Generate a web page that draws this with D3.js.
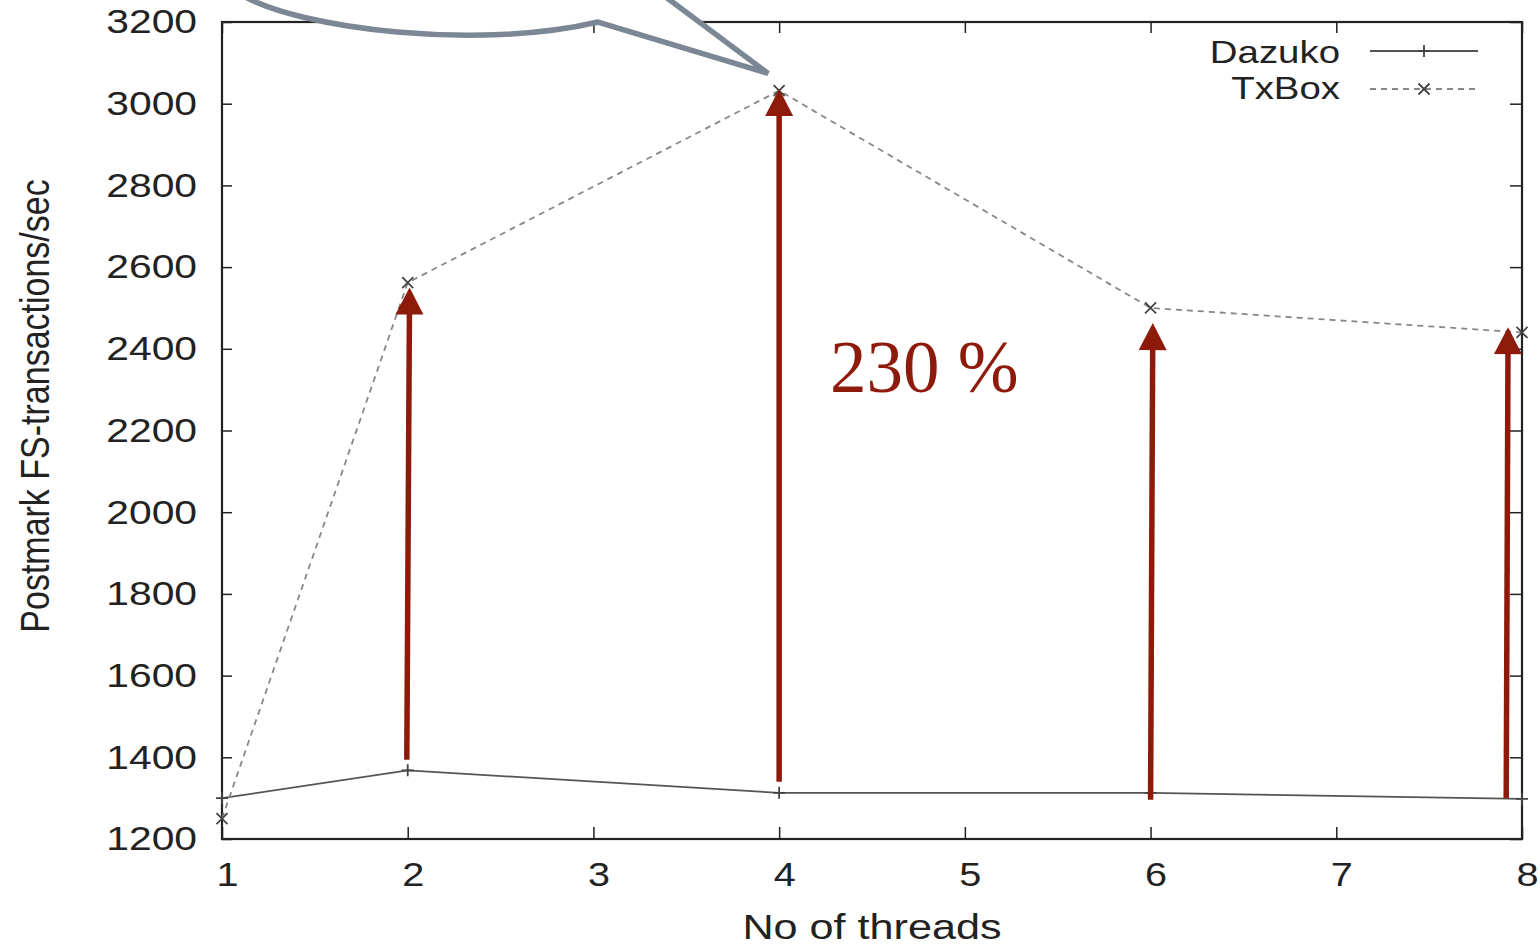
<!DOCTYPE html>
<html>
<head>
<meta charset="utf-8" />
<title>Postmark FS-transactions</title>
<style>
body { margin: 0; background: #fff; }
text { font-family: "Liberation Sans", Arial, sans-serif; fill: #222; }
.domain { display: none; }
.tick line { stroke: #222; stroke-width: 1.5px; }
</style>
</head>
<body>
<script src="https://cdnjs.cloudflare.com/ajax/libs/d3/7.8.5/d3.min.js"></script>
<script>
// data
var threads = [1, 2, 4, 6, 8];
var dazuko = [1300, 1368, 1313, 1313, 1298];
var txbox = [1250, 2562, 3032, 2500, 2440];
var xTicks = [1, 2, 3, 4, 5, 6, 7, 8];
var yTicks = [1200, 1400, 1600, 1800, 2000, 2200, 2400, 2600, 2800, 3000, 3200];

// red annotation arrows (x start, x end, value from, value to)
var arrowX0 = [1.995, 4.0, 6.0, 7.915];
var arrowX1 = [2.01, 4.0, 6.012, 7.925];
var arrowFrom = [1394, 1340, 1296, 1300];
var arrowTo = [2550, 3036, 2463, 2453];

var width = 1540, height = 945;
var stretch = 1.2;   // the original picture is wider than it is tall

var svg = d3.select("body").append("svg")
    .attr("width", width)
    .attr("height", height);

var x = d3.scaleLinear().domain([1, 8]).range([222, 1522]);
var y = d3.scaleLinear().domain([1200, 3200]).range([839, 22]);

// ticks, gnuplot style: inward and mirrored
var gLeft = svg.append("g")
    .attr("transform", "translate(" + x(1) + ",0)")
    .call(d3.axisLeft(y).tickValues(yTicks).tickSize(-10).tickPadding(0).tickFormat(d3.format("d")));
gLeft.selectAll("text")
    .attr("x", -25 / stretch)
    .attr("font-size", 34)
    .attr("transform", "scale(" + stretch + ",1)")
    .style("fill", "#222");

svg.append("g")
    .attr("transform", "translate(" + x(8) + ",0)")
    .call(d3.axisRight(y).tickValues(yTicks).tickSize(-12).tickFormat(""));

var gBottom = svg.append("g")
    .attr("transform", "translate(0," + y(1200) + ")")
    .call(d3.axisBottom(x).tickValues(xTicks).tickSize(-12).tickPadding(0).tickFormat(d3.format("d")));
gBottom.selectAll("text")
    .attr("x", 5 / stretch)
    .attr("y", 24)
    .attr("font-size", 33)
    .attr("transform", "scale(" + stretch + ",1)")
    .style("fill", "#222");

svg.append("g")
    .attr("transform", "translate(0," + y(3200) + ")")
    .call(d3.axisTop(x).tickValues(xTicks).tickSize(-11).tickFormat(""));

// frame
svg.append("rect")
    .attr("x", x(1)).attr("y", y(3200))
    .attr("width", x(8) - x(1)).attr("height", y(1200) - y(3200))
    .attr("fill", "none").attr("stroke", "#222").attr("stroke-width", 2.2);

// axis titles
svg.append("text")
    .attr("transform", "translate(" + (x(1) + x(8)) / 2 + ",939) scale(" + stretch + ",1)")
    .attr("text-anchor", "middle")
    .attr("font-size", 36)
    .text("No of threads");

svg.append("text")
    .attr("transform", "translate(49,406) scale(" + stretch + ",1) rotate(-90)")
    .attr("text-anchor", "middle")
    .attr("font-size", 34)
    .text("Postmark FS-transactions/sec");

// series
var line = d3.line()
    .x(function(d) { return x(d[0]); })
    .y(function(d) { return y(d[1]); });

svg.append("path")
    .datum(d3.zip(threads, dazuko))
    .attr("d", line)
    .attr("fill", "none").attr("stroke", "#555").attr("stroke-width", 1.8);

svg.append("path")
    .datum(d3.zip(threads, txbox))
    .attr("d", line)
    .attr("fill", "none").attr("stroke", "#888").attr("stroke-width", 1.8)
    .attr("stroke-dasharray", "6,5");

function plus(g, cx, cy, s, color) {
    g.append("path")
        .attr("d", "M" + (cx - s) + "," + cy + "H" + (cx + s) + "M" + cx + "," + (cy - s) + "V" + (cy + s))
        .attr("stroke", color).attr("stroke-width", 1.8);
}
function cross(g, cx, cy, s, color) {
    g.append("path")
        .attr("d", "M" + (cx - s) + "," + (cy - s) + "L" + (cx + s) + "," + (cy + s) +
                   "M" + (cx - s) + "," + (cy + s) + "L" + (cx + s) + "," + (cy - s))
        .attr("stroke", color).attr("stroke-width", 1.8);
}

var marks = svg.append("g");
threads.forEach(function(t, i) {
    plus(marks, x(t), y(dazuko[i]), 6, "#444");
    cross(marks, x(t), y(txbox[i]), 5.5, "#444");
});

// legend
var legend = svg.append("g");
legend.append("text")
    .attr("transform", "translate(1340,63) scale(" + stretch + ",1)")
    .attr("text-anchor", "end").attr("font-size", 32)
    .text("Dazuko");
legend.append("text")
    .attr("transform", "translate(1340,99) scale(" + stretch + ",1)")
    .attr("text-anchor", "end").attr("font-size", 32)
    .text("TxBox");
legend.append("line")
    .attr("x1", 1370).attr("x2", 1478).attr("y1", 51).attr("y2", 51)
    .attr("stroke", "#555").attr("stroke-width", 1.8);
plus(legend, 1424, 51, 6, "#444");
legend.append("line")
    .attr("x1", 1370).attr("x2", 1478).attr("y1", 89).attr("y2", 89)
    .attr("stroke", "#888").attr("stroke-width", 1.8).attr("stroke-dasharray", "6,5");
cross(legend, 1424, 89, 5.5, "#444");

// red arrows
var red = "#8e1a0a";
var arrows = svg.append("g");
arrowX0.forEach(function(ax, i) {
    var x0 = x(ax), y0 = y(arrowFrom[i]);
    var x1 = x(arrowX1[i]), y1 = y(arrowTo[i]);
    var len = Math.hypot(x1 - x0, y1 - y0);
    var ux = (x1 - x0) / len, uy = (y1 - y0) / len;
    var headL = 27, headW = 14;
    var bx = x1 - ux * headL, by = y1 - uy * headL;
    arrows.append("line")
        .attr("x1", x0).attr("y1", y0).attr("x2", bx + ux * 2).attr("y2", by + uy * 2)
        .attr("stroke", red).attr("stroke-width", 5.5);
    arrows.append("path")
        .attr("d", "M" + x1 + "," + y1 +
                   "L" + (bx - uy * headW) + "," + (by + ux * headW) +
                   "L" + (bx + uy * headW) + "," + (by - ux * headW) + "Z")
        .attr("fill", red);
});

svg.append("text")
    .attr("x", 830).attr("y", 392)
    .attr("font-size", 73)
    .style("font-family", "'Liberation Serif', 'Times New Roman', serif")
    .style("fill", red)
    .text("230 %");

// speech bubble coming in from above the chart
var tipX = x(4) - 11, tipY = y(3030) - 18;
svg.append("path")
    .attr("d", "M240,-6 C300,30 480,50 598,22 L" + tipX + "," + tipY +
               " L643,-20 L240,-20 Z")
    .attr("fill", "#fff")
    .attr("stroke", "#7b8794")
    .attr("stroke-width", 5.5)
    .attr("stroke-linejoin", "miter");
</script>
</body>
</html>
